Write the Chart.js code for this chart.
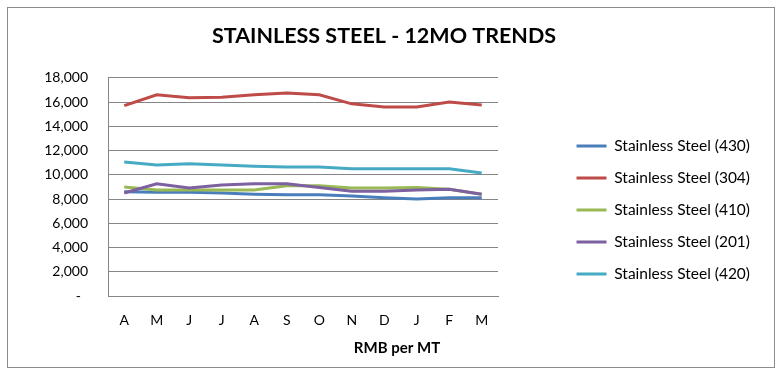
<!DOCTYPE html>
<html>
<head>
<meta charset="utf-8">
<script src="https://cdn.jsdelivr.net/npm/chart.js@4.4.1/dist/chart.umd.min.js"></script>
<style>
  html, body { margin: 0; padding: 0; background: #fff; }
  canvas { position: absolute; left: 0; top: 0; }
  #frame { position: absolute; left: 7px; top: 7px; width: 766px; height: 359px; border: 1px solid #8c8c8c; pointer-events: none; }
</style>
</head>
<body>
<canvas id="chart" width="779" height="374"></canvas>
<div id="frame"></div>
<script>
const months = ['A', 'M', 'J', 'J', 'A', 'S', 'O', 'N', 'D', 'J', 'F', 'M'];
const seriesNames = ['Stainless Steel (430)', 'Stainless Steel (304)', 'Stainless Steel (410)', 'Stainless Steel (201)', 'Stainless Steel (420)'];
const ss430 = [8600, 8550, 8550, 8500, 8400, 8350, 8350, 8250, 8100, 8000, 8100, 8100];
const ss304 = [15700, 16600, 16350, 16400, 16600, 16750, 16600, 15850, 15600, 15600, 16000, 15750];
const ss410 = [9000, 8750, 8750, 8750, 8750, 9100, 9100, 8900, 8900, 8950, 8800, 8400];
const ss201 = [8500, 9250, 8900, 9150, 9250, 9250, 8950, 8650, 8650, 8750, 8800, 8400];
const ss420 = [11050, 10800, 10900, 10800, 10700, 10650, 10650, 10500, 10500, 10500, 10500, 10150];
const yTicks = [0, 2000, 4000, 6000, 8000, 10000, 12000, 14000, 16000, 18000];

const GRID = '#868686';
Chart.defaults.color = '#000';
Chart.defaults.font.family = 'Lato';

function line(label, data, color, order) {
    return {
        label, data, order,
        borderColor: color,
        backgroundColor: color,
        borderWidth: 3,
        pointRadius: 0,
        tension: 0,
        fill: false
    };
}

// the axis caption sits a little right of the canvas centre in the original
const nudgeSubtitle = {
    id: 'nudgeSubtitle',
    afterLayout(chart) {
        const sub = chart.boxes.find(b => b.options && b.options.text === 'RMB per MT');
        if (sub) { sub.left += 13; sub.right += 13; }
    }
};

new Chart(document.getElementById('chart'), {
    type: 'line',
    data: {
        labels: months,
        datasets: [
            line(seriesNames[0], ss430, '#4A7EBB', 5),
            line(seriesNames[1], ss304, '#BE4B48', 4),
            line(seriesNames[2], ss410, '#98B954', 3),
            line(seriesNames[3], ss201, '#7D60A0', 2),
            line(seriesNames[4], ss420, '#46AAC5', 1)
        ]
    },
    plugins: [nudgeSubtitle],
    options: {
        responsive: false,
        animation: false,
        layout: { padding: { left: 8, right: 19, top: 46, bottom: 0 } },
        plugins: {
            title: {
                display: true,
                text: 'STAINLESS STEEL - 12MO TRENDS',
                font: { size: 21.5, weight: 'bold' },
                padding: { top: -23, bottom: 29 }
            },
            subtitle: {
                display: true,
                position: 'bottom',
                text: 'RMB per MT',
                font: { size: 15, weight: 'bold' },
                padding: { top: -5, bottom: 17 }
            },
            legend: {
                position: 'right',
                align: 'center',
                maxWidth: 300,
                labels: {
                    boxWidth: 30,
                    boxHeight: 0,
                    padding: 16.5,
                    font: { size: 15.5 },
                    sort: (a, b) => a.datasetIndex - b.datasetIndex
                }
            },
            tooltip: { enabled: false }
        },
        scales: {
            x: {
                offset: true,
                grid: { display: false, drawTicks: false },
                border: { color: GRID },
                ticks: { font: { size: 14 }, padding: 15.6 }
            },
            y: {
                min: 0,
                max: 18000,
                afterBuildTicks: s => { s.ticks = yTicks.map(v => ({ value: v })); },
                afterFit: s => { s.width = 100; },
                grid: { color: GRID, drawTicks: false },
                border: { color: GRID },
                ticks: {
                    font: { size: 14 },
                    padding: 20,
                    callback: v => v === 0 ? '-  ' : v.toLocaleString('en-US')
                }
            },
            gap: {
                type: 'linear',
                position: 'right',
                grid: { display: false, drawTicks: false },
                border: { display: false },
                ticks: { display: false },
                afterFit: s => { s.width = Math.max(0, 779 - 19 - s.chart.legend.width - 498); }
            }
        }
    }
});
</script>
</body>
</html>
